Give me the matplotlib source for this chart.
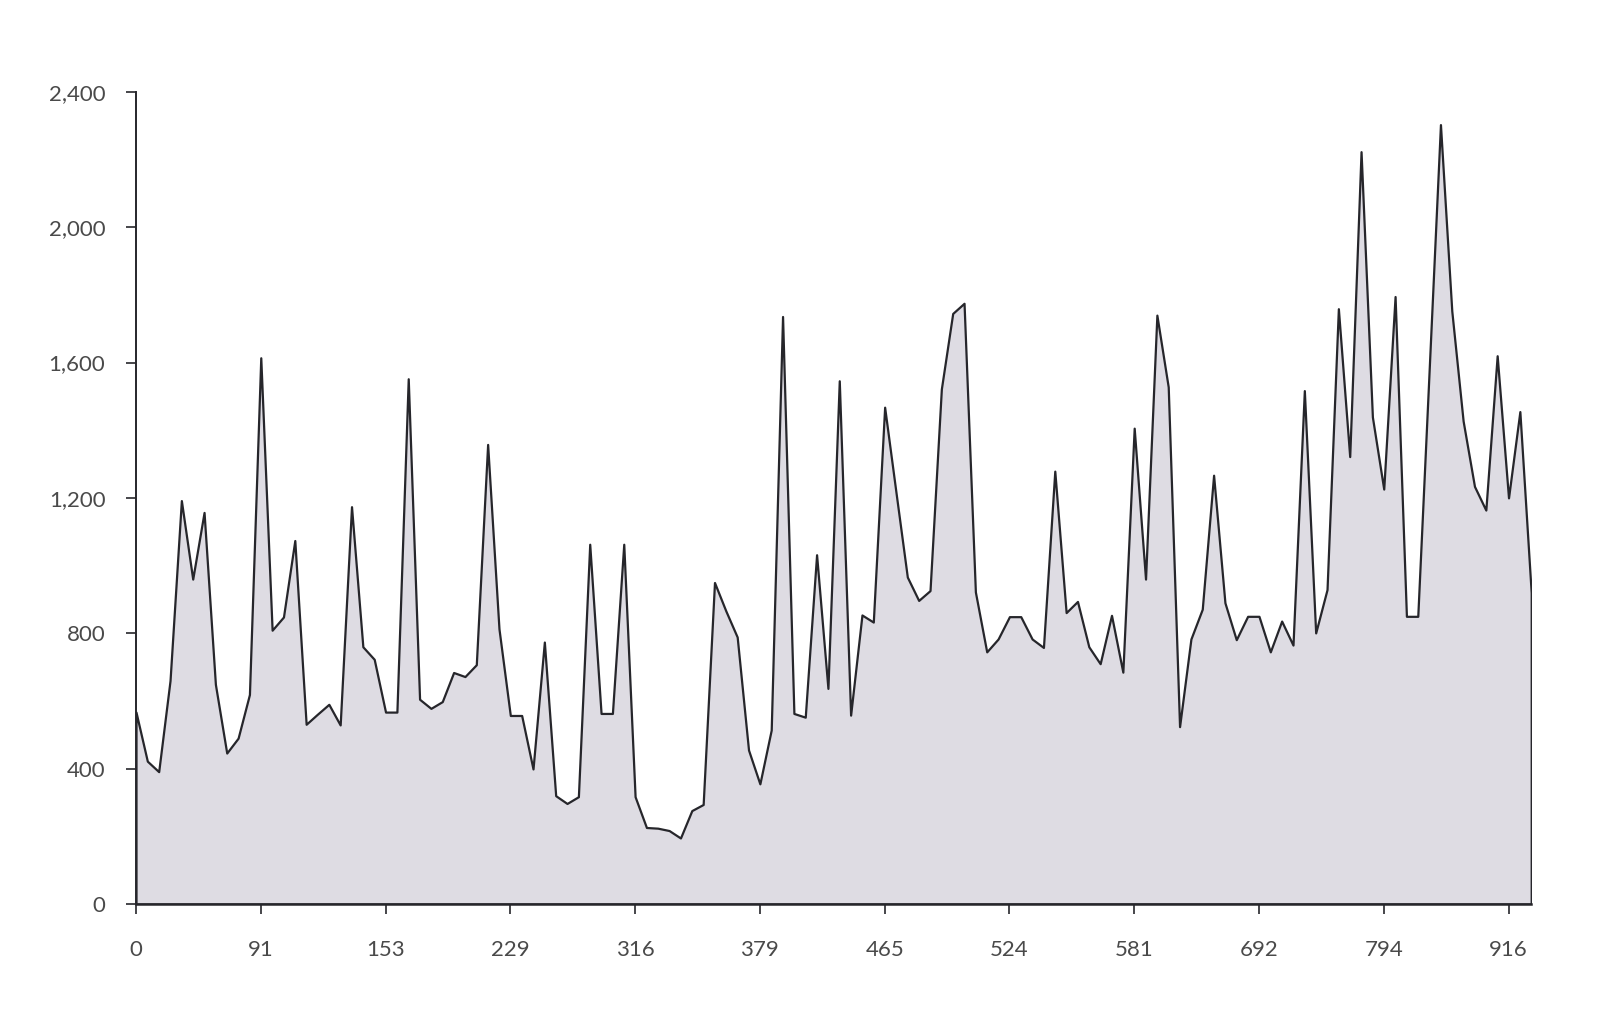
import numpy as np
import matplotlib
matplotlib.use("Agg")
import matplotlib.pyplot as plt

# values, one per category step
values = [567, 422, 391, 660, 1192, 960, 1157, 649, 446, 490, 619,
          1614, 809, 848, 1074, 531, 561, 590, 529, 1174, 760, 723,
          567, 567, 1552, 605, 578, 598, 684, 672, 707, 1358, 813,
          557, 557, 399, 774, 320, 297, 317, 1063, 563, 563, 1063,
          317, 226, 224, 217, 195, 276, 294, 950, 866, 789, 455,
          355, 514, 1736, 563, 552, 1032, 637, 1546, 558, 854, 833,
          1468, 1216, 966, 897, 926, 1522, 1745, 1775, 922, 745, 783,
          849, 849, 783, 758, 1279, 861, 894, 760, 710, 853, 685,
          1406, 960, 1740, 1528, 524, 783, 871, 1267, 890, 781, 850,
          850, 745, 836, 765, 1517, 801, 929, 1759, 1322, 2223, 1439,
          1226, 1795, 850, 850, 1575, 2303, 1752, 1427, 1234, 1164, 1620,
          1200, 1455, 920]
x_labels = ["0", "91", "153", "229", "316", "379", "465", "524", "581", "692", "794", "916"]
y_ticks = [0, 400, 800, 1200, 1600, 2000, 2400]

x = np.arange(len(values))

plt.rcParams["font.family"] = ["Lato", "DejaVu Sans"]

fig = plt.figure(figsize=(16, 10.14), dpi=100)
ax = fig.add_axes([0.085, 0.1085, 0.872, 0.801])

ax.fill_between(x, values, 0, facecolor="#dedce3", edgecolor="#26262b", linewidth=1.6)

ax.set_xlim(0, len(values) - 1)
ax.set_ylim(0, 2400)
ax.set_xticks(x[::11])
ax.set_xticklabels(x_labels)
ax.set_yticks(y_ticks)
ax.set_yticklabels([f"{v:,}" for v in y_ticks])

for s in ["top", "right"]:
    ax.spines[s].set_visible(False)
ax.spines["left"].set_linewidth(1.4)
ax.spines["bottom"].set_linewidth(1.8)
ax.spines["left"].set_color("#26262b")
ax.spines["bottom"].set_color("#26262b")

ax.tick_params(axis="y", length=7, width=1.2, pad=15, labelsize=16, labelcolor="#4a4a4a", color="#26262b")
ax.tick_params(axis="x", length=7, width=1.2, pad=19, labelsize=16, labelcolor="#4a4a4a", color="#26262b")

fig.savefig("out.png", dpi=100)
